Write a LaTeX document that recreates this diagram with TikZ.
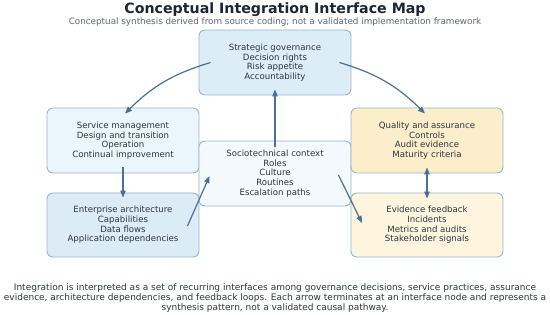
\documentclass[tikz,border=0pt]{standalone}
\usepackage{fontspec}
\setmainfont{DejaVu Sans}
\usetikzlibrary{arrows.meta}
\definecolor{txt}{HTML}{2E3440}
\definecolor{ttl}{HTML}{1F2430}
\definecolor{sub}{HTML}{5C6672}
\definecolor{edge}{HTML}{97B5CC}
\definecolor{arr}{HTML}{4D7090}
\definecolor{fgov}{HTML}{DCEDF8}
\definecolor{fsvc}{HTML}{EAF5FC}
\definecolor{fea}{HTML}{DCECF7}
\definecolor{fsoc}{HTML}{F3F9FD}
\definecolor{fqa}{HTML}{FDEECB}
\definecolor{fev}{HTML}{FDF5DE}
\tikzset{
  card/.style={draw=edge, line width=0.9pt, rounded corners=6pt, minimum width=152pt,
    minimum height=65pt, align=center, text=txt,
    font=\fontsize{8.6pt}{9.7pt}\selectfont, inner sep=0pt},
  link/.style={draw=arr, line width=1.2pt, -{Stealth[length=7pt,width=5.5pt,inset=0pt]}},
  dlink/.style={draw=arr, line width=1.2pt, {Stealth[length=7pt,width=5.5pt,inset=0pt]}-{Stealth[length=7pt,width=5.5pt,inset=0pt]}},
  plain/.style={text=txt, font=\fontsize{9pt}{10pt}\selectfont, align=center, inner sep=0pt}
}
\begin{document}
\begin{tikzpicture}[x=1pt,y=-1pt]
\useasboundingbox (0,0) rectangle (550,315);
\node[anchor=base, text=ttl, font=\bfseries\fontsize{14.2pt}{16pt}\selectfont, inner sep=0pt] (title) at (275,14) {Conceptual Integration Interface Map};
\node[anchor=base, text=sub, font=\fontsize{8.8pt}{10pt}\selectfont, inner sep=0pt] (subtitle) at (275,25) {Conceptual synthesis derived from source coding; not a validated implementation framework};

\node[card, fill=fgov] (gov) at (275,62.5) {Strategic governance\\Decision rights\\Risk appetite\\Accountability};
\node[card, fill=fsvc] (svc) at (123,140.5) {Service management\\Design and transition\\Operation\\Continual improvement};
\node[card, fill=fea, minimum height=64pt] (ea) at (123,225) {Enterprise architecture\\Capabilities\\Data flows\\Application dependencies};
\node[card, fill=fsoc] (soc) at (275,173.5) {Sociotechnical context\\Roles\\Culture\\Routines\\Escalation paths};
\node[card, fill=fqa] (qa) at (427,140.5) {Quality and assurance\\Controls\\Audit evidence\\Maturity criteria};
\node[card, fill=fev, minimum height=64pt] (ev) at (427,225) {Evidence feedback\\Incidents\\Metrics and audits\\Stakeholder signals};

\draw[link] ([xshift=12pt]gov.west) to[bend right=14] ([xshift=2pt,yshift=-6pt]svc.north);
\draw[link] ([xshift=-12pt]gov.east) to[bend left=14] ([xshift=-2pt,yshift=-6pt]qa.north);
\draw[link] ([yshift=-6pt]soc.north) -- ([yshift=6pt]gov.south);
\draw[link] ([yshift=6pt]svc.south) -- ([yshift=-5pt]ea.north);
\draw[link] ([xshift=-12pt,yshift=-1pt]ea.east) -- ([xshift=11pt,yshift=-2.5pt]soc.west);
\draw[link] ([xshift=-13pt,yshift=-1.5pt]soc.east) -- ([xshift=11.5pt,yshift=2pt]ev.west);
\draw[dlink] ([yshift=6pt]qa.south) -- ([yshift=-6pt]ev.north);

\node[plain, anchor=north] (footer) at (275,283.5) {Integration is interpreted as a set of recurring interfaces among governance decisions, service practices, assurance\\evidence, architecture dependencies, and feedback loops. Each arrow terminates at an interface node and represents a\\synthesis pattern, not a validated causal pathway.};
\end{tikzpicture}
\end{document}
